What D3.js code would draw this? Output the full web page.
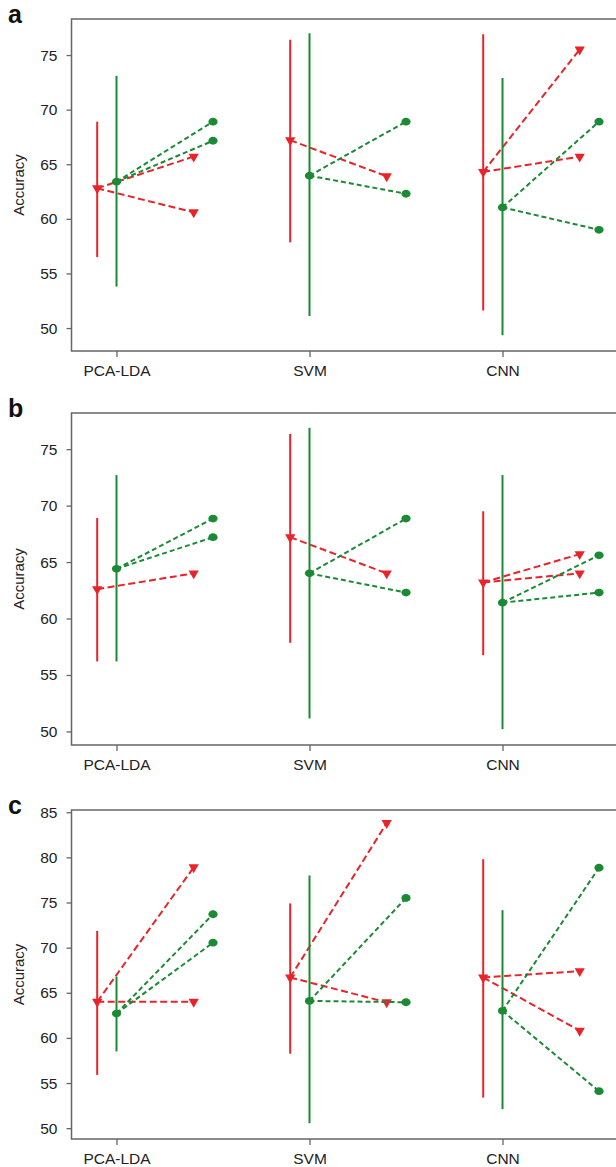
<!DOCTYPE html>
<html>
<head>
<meta charset="utf-8">
<script src="https://cdn.jsdelivr.net/npm/d3@7"></script>
<style>
  body { margin: 0; background: #fff; }
  svg { display: block; font-family: "Liberation Sans", Arial, sans-serif; }
  .tick text { fill: #222; font-size: 15.5px; }
  .tick line { stroke: #666; stroke-width: 1.3; }
</style>
</head>
<body>
<svg id="chart" width="616" height="1167"></svg>
<script>
var methods = ["PCA-LDA", "SVM", "CNN"];

// panel a
var aRedMean = [62.8, 67.2, 64.3]
    , aRedLo = [56.5, 57.85, 51.6]
    , aRedHi = [68.9, 76.4, 76.9]
    , aRedEnds = [[65.7, 60.6], [63.9], [75.5, 65.7]]
    , aGreenMean = [63.4, 63.95, 61.05]
    , aGreenLo = [53.8, 51.1, 49.35]
    , aGreenHi = [73.1, 77.0, 72.9]
    , aGreenEnds = [[68.9, 67.15], [68.9, 62.3], [68.9, 59.0]]
    , aTicks = [50, 55, 60, 65, 70, 75];

// panel b
var bRedMean = [62.6, 67.2, 63.2]
    , bRedLo = [56.2, 57.85, 56.75]
    , bRedHi = [68.9, 76.35, 69.5]
    , bRedEnds = [[64.0], [64.0], [65.7, 64.0]]
    , bGreenMean = [64.4, 64.0, 61.4]
    , bGreenLo = [56.2, 51.15, 50.2]
    , bGreenHi = [72.7, 76.9, 72.7]
    , bGreenEnds = [[68.85, 67.2], [68.85, 62.3], [65.6, 62.3]]
    , bTicks = [50, 55, 60, 65, 70, 75];

// panel c
var cRedMean = [64.0, 66.7, 66.7]
    , cRedLo = [55.9, 58.25, 53.4]
    , cRedHi = [71.85, 74.9, 79.8]
    , cRedEnds = [[78.9, 64.0], [83.8, 63.95], [67.4, 60.8]]
    , cGreenMean = [62.7, 64.1, 63.0]
    , cGreenLo = [58.5, 50.55, 52.1]
    , cGreenHi = [66.8, 78.0, 74.15]
    , cGreenEnds = [[73.7, 70.55], [75.5, 63.95], [78.85, 54.1]]
    , cTicks = [50, 55, 60, 65, 70, 75, 80, 85];

var red = "#e8242a", green = "#1b8a35", axisColor = "#666";

var svg = d3.select("#chart");

var panels = [
    {label: "a", top: 19, bottom: 351, domain: [47.9, 78.3], ticks: aTicks,
     red: [aRedMean, aRedLo, aRedHi, aRedEnds], green: [aGreenMean, aGreenLo, aGreenHi, aGreenEnds]},
    {label: "b", top: 413, bottom: 745, domain: [48.8, 78.2], ticks: bTicks,
     red: [bRedMean, bRedLo, bRedHi, bRedEnds], green: [bGreenMean, bGreenLo, bGreenHi, bGreenEnds]},
    {label: "c", top: 810, bottom: 1139, domain: [48.8, 85.25], ticks: cTicks,
     red: [cRedMean, cRedLo, cRedHi, cRedEnds], green: [cGreenMean, cGreenLo, cGreenHi, cGreenEnds]}
];

var left = 71.5;

var x = d3.scalePoint()
    .domain(methods)
    .range([116.5, 502.5]);
var step = x.step();

var triangle = d3.symbol().type(d3.symbolTriangle).size(46);

panels.forEach(function(p) {
    var y = d3.scaleLinear()
        .domain(p.domain)
        .range([p.bottom, p.top]);

    var g = svg.append("g").attr("class", "panel");

    // frame: left, top, bottom (right side runs off the picture)
    g.append("path")
        .attr("d", "M620," + p.top + "H" + left + "V" + p.bottom + "H620")
        .attr("fill", "none")
        .attr("stroke", axisColor)
        .attr("stroke-width", 1.5);

    var yAxis = d3.axisLeft(y)
        .tickValues(p.ticks)
        .tickSize(5)
        .tickPadding(9);

    g.append("g")
        .attr("transform", "translate(" + left + ",0)")
        .call(yAxis)
        .call(s => s.select(".domain").remove());

    var xAxis = d3.axisBottom(x)
        .tickSize(6)
        .tickPadding(8);

    g.append("g")
        .attr("transform", "translate(0," + p.bottom + ")")
        .call(xAxis)
        .call(s => s.select(".domain").remove());

    g.append("text")
        .attr("x", 8)
        .attr("y", p.top + 4)
        .attr("font-size", 25)
        .attr("font-weight", "bold")
        .attr("fill", "#111")
        .text(p.label);

    g.append("text")
        .attr("transform", "translate(24," + ((p.top + p.bottom) / 2) + ") rotate(-90)")
        .attr("text-anchor", "middle")
        .attr("font-size", 15)
        .attr("fill", "#222")
        .text("Accuracy");

    drawGroup(g, y, p.red, red, -0.1, 0.4, "7,3.5", "tri");
    drawGroup(g, y, p.green, green, 0, 0.5, "5,3", "dot");
});

function drawGroup(g, y, series, color, off, endOff, dash, shape) {
    var mean = series[0], lo = series[1], hi = series[2], ends = series[3];

    methods.forEach(function(m, i) {
        var cx = x(m) + off * step;
        var ex = x(m) + endOff * step;

        g.append("line")
            .attr("x1", cx).attr("x2", cx)
            .attr("y1", y(lo[i])).attr("y2", y(hi[i]))
            .attr("stroke", color)
            .attr("stroke-width", 2);

        ends[i].forEach(function(v) {
            g.append("line")
                .attr("x1", cx).attr("y1", y(mean[i]))
                .attr("x2", ex).attr("y2", y(v))
                .attr("stroke", color)
                .attr("stroke-width", 2)
                .attr("stroke-dasharray", dash);
            marker(g, ex, y(v), color, shape);
        });

        marker(g, cx, y(mean[i]), color, shape);
    });
}

function marker(g, px, py, color, shape) {
    if (shape === "tri") {
        g.append("path")
            .attr("d", triangle())
            .attr("transform", "translate(" + px + "," + py + ") rotate(180)")
            .attr("fill", color);
    } else {
        g.append("ellipse")
            .attr("cx", px).attr("cy", py)
            .attr("rx", 4.6).attr("ry", 3.9)
            .attr("fill", color);
    }
}
</script>
</body>
</html>
